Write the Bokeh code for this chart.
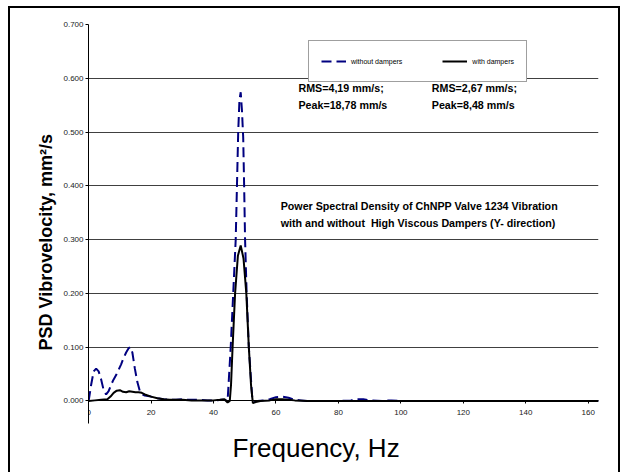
from bokeh.plotting import figure
from bokeh.models import (Legend, LegendItem, Label, FixedTicker, NumeralTickFormatter,
                          Range1d, Title)
from bokeh.embed import file_html
from bokeh.resources import INLINE

# ---- data ----
freq_without = [0, 0.8, 1.6, 2.4, 3.2, 4.0, 4.8, 5.6, 6.4, 7.2, 8.0, 8.8, 9.6, 10.4, 11.2,
                12.0, 12.8, 13.4, 14.0, 14.8, 15.6, 16.4, 17.2, 18.0, 20, 22, 24, 26, 28,
                30, 32, 35, 38, 41, 43, 44, 44.5, 45.5, 46.3, 47.1, 47.5, 47.9, 48.3, 48.7,
                49.1, 49.5, 49.8, 50.1, 50.6, 51.3, 52.4, 53.0, 54.0, 56, 58, 60, 62, 64,
                66, 68, 70, 75, 80, 84, 86, 88, 90, 94, 97, 100, 110, 120, 130, 140, 150, 163.3]
psd_without = [0.000, 0.030, 0.055, 0.060, 0.055, 0.040, 0.020, 0.012, 0.018, 0.030, 0.040,
               0.048, 0.058, 0.068, 0.080, 0.090, 0.098, 0.100, 0.090, 0.060, 0.035, 0.018,
               0.012, 0.010, 0.008, 0.005, 0.003, 0.002, 0.002, 0.003, 0.002, 0.002, 0.001,
               0.001, 0.002, 0.001, 0.000, 0.100, 0.200, 0.300, 0.400, 0.500, 0.560, 0.574,
               0.540, 0.490, 0.400, 0.300, 0.200, 0.100, 0.005, -0.002, 0.000, 0.001, 0.003,
               0.007, 0.008, 0.006, 0.002, 0.001, 0.000, 0.000, 0.000, 0.001, 0.003, 0.003,
               0.001, 0.000, 0.001, 0.000, 0.000, 0.000, 0.000, 0.000, 0.000, 0.000]

freq_with = [0, 2, 4, 6, 7, 8, 9, 10, 11, 12, 13, 14, 15, 16, 17, 18, 20, 22, 24, 26, 28, 30,
             33, 36, 40, 42, 43.5, 44.5, 45.2, 45.6, 46.1, 46.9, 47.8, 48.7, 49.6, 50.5, 51.3,
             52.0, 52.6, 53.5, 55, 58, 60, 62, 64, 66, 70, 80, 100, 120, 140, 163.3]
psd_with = [0.000, 0.001, 0.002, 0.003, 0.008, 0.015, 0.019, 0.020, 0.017, 0.016, 0.018,
            0.017, 0.016, 0.016, 0.015, 0.012, 0.008, 0.005, 0.003, 0.002, 0.002, 0.002,
            0.001, 0.001, 0.001, 0.002, 0.003, -0.003, 0.000, 0.030, 0.100, 0.200, 0.270,
            0.289, 0.265, 0.200, 0.100, 0.030, -0.004, -0.002, 0.000, 0.001, 0.003, 0.003,
            0.002, 0.001, 0.000, 0.000, 0.000, 0.000, 0.000, 0.000]

x_ticks = [0, 20, 40, 60, 80, 100, 120, 140, 160]
y_ticks = [0.0, 0.1, 0.2, 0.3, 0.4, 0.5, 0.6, 0.7]

series_labels = ["without dampers", "with dampers"]
notes_without = ["RMS=4,19 mm/s;", "Peak=18,78 mm/s"]
notes_with = ["RMS=2,67 mm/s;", "Peak=8,48 mm/s"]
chart_title = ["Power Spectral Density of ChNPP Valve 1234 Vibration",
               "with and without \u00a0High Viscous Dampers (Y- direction)"]
x_label = "Frequency, Hz"
y_label = "PSD Vibrovelocity, mm\u00b2/s"

FONT = "Liberation Sans"

p = figure(width=612, height=466, output_backend="svg", toolbar_location=None,
           x_range=Range1d(-0.05, 163.3), y_range=Range1d(-0.042, 0.7),
           min_border_left=80, min_border_right=22, min_border_top=18, min_border_bottom=49)
p.margin = (6, 0, 0, 8)
p.styles = {"box-shadow": "inset 2px 0 0 0 #000, inset -2px 0 0 0 #000, inset 0 2px 0 0 #000"}
p.outline_line_color = None
p.background_fill_color = "white"
p.border_fill_color = None

p.xgrid.visible = False
p.ygrid.ticker = FixedTicker(ticks=y_ticks)
p.ygrid.grid_line_color = "#404040"
p.ygrid.grid_line_width = 1

# x axis at y = 0
xa = p.xaxis[0]
xa.fixed_location = 0
xa.ticker = FixedTicker(ticks=x_ticks)
xa.axis_line_color = "black"
xa.major_tick_in = 0
xa.major_tick_out = 3
xa.minor_tick_line_color = None
xa.major_label_text_font = FONT
xa.major_label_text_font_size = "8px"
xa.major_label_text_color = "#222222"
xa.major_label_standoff = 6

ya = p.yaxis[0]
ya.ticker = FixedTicker(ticks=y_ticks)
ya.formatter = NumeralTickFormatter(format="0.000")
ya.axis_line_color = "black"
ya.major_tick_in = 0
ya.major_tick_out = 3
ya.minor_tick_line_color = None
ya.major_label_text_font = FONT
ya.major_label_text_font_size = "8px"
ya.major_label_text_color = "#222222"
ya.major_label_standoff = 2

r1 = p.line(freq_without, psd_without, line_color="#000080", line_width=2, line_dash="10 5")
r2 = p.line(freq_with, psd_with, line_color="black", line_width=2)

legend = Legend(items=[LegendItem(label=series_labels[0], renderers=[r1]),
                       LegendItem(label=series_labels[1], renderers=[r2])],
                orientation="horizontal", location=(220, 341),
                border_line_color="#404040", border_line_width=1,
                background_fill_color="white", background_fill_alpha=1,
                padding=12, spacing=40, glyph_width=25, glyph_height=16,
                label_height=16, label_standoff=5, margin=0,
                label_text_font=FONT, label_text_font_size="7px",
                label_text_color="black")
p.add_layout(legend)

def note(text, x, y, size="10.7px"):
    p.add_layout(Label(x=x, y=y, text=text, text_font=FONT, text_font_size=size,
                       text_font_style="bold", text_baseline="middle",
                       text_align="left", text_color="black"))

note(notes_without[0], 67.2, 0.582)
note(notes_without[1], 67.2, 0.550)
note(notes_with[0], 109.9, 0.582)
note(notes_with[1], 109.9, 0.550)
note(chart_title[0], 61.5, 0.362)
note(chart_title[1], 61.5, 0.330)

p.add_layout(Title(text=x_label, align="left", offset=144, standoff=15, text_font=FONT,
                   text_font_size="26px", text_font_style="normal",
                   text_color="black"), "below")
p.add_layout(Title(text=y_label, align="left", offset=73, text_font=FONT,
                   text_font_size="18px", text_font_style="bold",
                   text_color="black"), "left")

open("out.html", "w").write(file_html(p, INLINE))
